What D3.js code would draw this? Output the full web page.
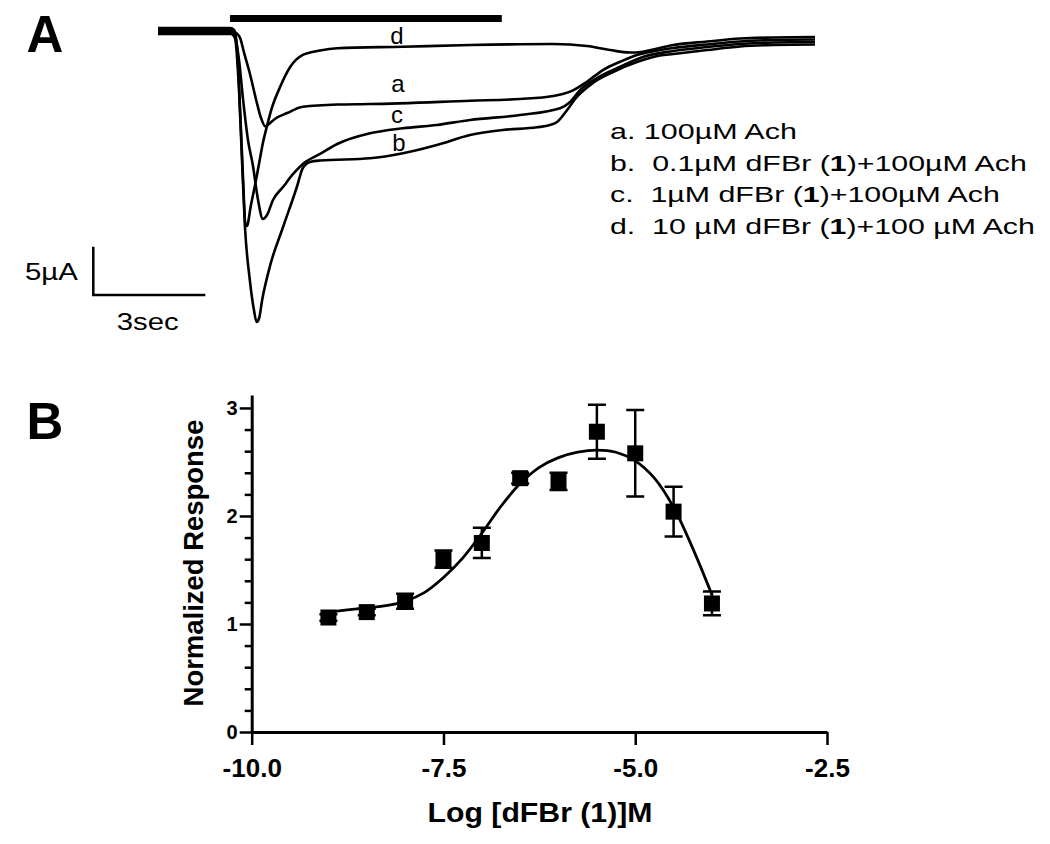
<!DOCTYPE html>
<html><head><meta charset="utf-8">
<script src="https://cdn.jsdelivr.net/npm/d3@7"></script>
<style>body{margin:0;background:#fff}svg{display:block}</style>
</head><body>
<svg id="c" width="1050" height="844"></svg>
<script>
// ---------- DATA: Panel A (time s, current µA) ----------
const trace_a = [[0,0.10],[1.96,0.10],[2.09,-0.21],[2.20,-0.72],[2.30,-2.17],[2.47,-4.55],[2.63,-7.14],[2.76,-9.01],[2.88,-9.89],[2.97,-9.63],[3.13,-9.11],[3.46,-8.49],[3.88,-7.84],[4.80,-7.61],[5.68,-7.56],[8.36,-7.22],[9.70,-7.04],[10.58,-6.73],[11.04,-6.28],[11.49,-5.25],[11.92,-4.04],[12.38,-3.18],[12.83,-2.48],[13.31,-2.07],[13.80,-1.76],[14.71,-1.40],[15.59,-1.09],[16.48,-0.93],[17.60,-0.88]];
const trace_b = [[0,-0.31],[1.96,-0.31],[2.06,-0.72],[2.17,-6.11],[2.25,-13.35],[2.33,-20.29],[2.46,-25.78],[2.57,-28.88],[2.64,-30.12],[2.71,-29.71],[2.79,-27.85],[3.00,-24.33],[3.35,-20.29],[3.72,-16.15],[3.88,-14.18],[4.07,-13.56],[4.34,-13.41],[5.68,-13.18],[6.56,-12.66],[7.47,-11.80],[8.36,-10.77],[9.24,-10.25],[10.15,-9.97],[10.50,-9.73],[10.69,-9.42],[10.96,-8.18],[11.22,-6.83],[11.65,-5.38],[12.19,-4.24],[12.83,-3.21],[13.45,-2.54],[13.80,-2.38],[14.71,-1.97],[15.59,-1.60],[16.48,-1.45],[17.60,-1.40]];
const trace_c = [[0,-0.10],[1.96,-0.10],[2.06,-0.52],[2.17,-3.00],[2.28,-7.14],[2.41,-11.28],[2.54,-13.87],[2.68,-17.49],[2.81,-19.46],[2.92,-19.05],[3.08,-17.49],[3.35,-16.15],[3.62,-14.80],[3.88,-13.77],[4.34,-12.73],[4.80,-11.70],[5.68,-10.59],[6.56,-10.07],[7.47,-9.73],[8.36,-9.21],[9.70,-8.70],[10.77,-8.00],[11.04,-7.35],[11.31,-6.11],[11.76,-4.87],[12.38,-3.70],[12.99,-2.69],[13.80,-2.07],[14.71,-1.66],[15.59,-1.35],[16.48,-1.19],[17.60,-1.14]];
const trace_d = [[0,0.31],[1.93,0.31],[2.04,0.10],[2.12,-1.76],[2.20,-8.18],[2.28,-15.42],[2.34,-19.98],[2.38,-20.19],[2.49,-18.01],[2.60,-15.94],[2.71,-13.66],[2.81,-11.59],[2.92,-9.83],[3.05,-7.97],[3.27,-5.80],[3.54,-3.73],[3.88,-2.48],[4.34,-2.02],[4.80,-1.79],[6.56,-1.63],[8.36,-1.45],[10.58,-1.35],[11.49,-1.55],[12.11,-1.97],[12.64,-2.23],[12.99,-2.14],[13.80,-1.45],[14.71,-1.09],[15.59,-0.78],[16.48,-0.67],[17.60,-0.62]];
const traceNames = ["a","b","c","d"];
const stimulus = [1.93, 9.21];            // agonist application bar (s)
const scaleBarUA = 5, scaleBarSec = 3;
const legendLines = [
  [["a. 100µM Ach", false]],
  [["b.  0.1µM dFBr (", false], ["1", true], [")+100µM Ach", false]],
  [["c.  1µM dFBr (", false], ["1", true], [")+100µM Ach", false]],
  [["d.  10 µM dFBr (", false], ["1", true], [")+100 µM Ach", false]]
];

// ---------- DATA: Panel B ----------
const logConc  = [-9.0, -8.5, -8.0, -7.5, -7.0, -6.5, -6.0, -5.5, -5.0, -4.5, -4.0];
const response = [1.06, 1.11, 1.21, 1.60, 1.75, 2.35, 2.32, 2.78, 2.58, 2.04, 1.19];
const semErr   = [0.03, 0.03, 0.07, 0.08, 0.14, 0.05, 0.08, 0.25, 0.40, 0.23, 0.11];
const fitX = [-9.0, -8.5, -8.25, -8.0, -7.75, -7.5, -7.25, -7.0, -6.75, -6.5, -6.25, -6.0, -5.75, -5.5, -5.25, -5.0, -4.75, -4.5, -4.25, -4.0];
const fitY = [1.11, 1.15, 1.17, 1.21, 1.29, 1.43, 1.61, 1.84, 2.09, 2.30, 2.45, 2.54, 2.59, 2.61, 2.59, 2.51, 2.35, 2.08, 1.70, 1.27];
const xTickValues = [-10, -7.5, -5, -2.5];
const xTickLabels = ["-10.0", "-7.5", "-5.0", "-2.5"];
const yTickValues = [0, 1, 2, 3];
const yTickLabels = ["0", "1", "2", "3"];
const yMinorValues = [0.2,0.4,0.6,0.8,1.2,1.4,1.6,1.8,2.2,2.4,2.6,2.8];

// ---------- DRAW ----------
const FONT = "'Liberation Sans', Arial, Helvetica, sans-serif";
const svg = d3.select("#c");
svg.append("rect").attr("width",1050).attr("height",844).attr("fill","#fff");

function fitText(parent, o) {
  const g = parent.append("g");
  const t = g.append("text").attr("font-family", FONT).attr("font-size", o.size)
    .attr("font-weight", o.weight || "normal").attr("text-anchor", o.anchor || "start")
    .style("white-space", "pre").attr("fill", "#000");
  o.segs.forEach(([s, b]) => t.append("tspan").text(s).attr("font-weight", b ? "bold" : null));
  const w = t.node().getComputedTextLength();
  const s = o.target ? o.target / w : 1;
  g.attr("transform", `translate(${o.x},${o.y}) rotate(${o.rotate || 0}) scale(${s},1)`);
  return g;
}

// ===== Panel A =====
const xA = d3.scaleLinear().domain([0, 17.6]).range([158, 815]);
const yA = d3.scaleLinear().domain([0, -5]).range([31, 79.3]);
const gA = svg.append("g");
const lineA = d3.line().x(d => xA(d[0])).y(d => yA(d[1])).curve(d3.curveMonotoneX);
[trace_a, trace_b, trace_c, trace_d].forEach(tr => {
  gA.append("path").attr("d", lineA(tr)).attr("fill", "none")
    .attr("stroke", "#000").attr("stroke-width", 2.6).attr("stroke-linejoin", "round");
});
// stimulus bar
gA.append("line").attr("x1", xA(stimulus[0])).attr("x2", xA(stimulus[1]))
  .attr("y1", 18.5).attr("y2", 18.5).attr("stroke", "#000").attr("stroke-width", 7);

// trace labels
const labelPos = {d: [397, 44], a: [398, 91.5], c: [397, 122.5], b: [399, 150.5]};
traceNames.forEach(n => {
  gA.append("text").attr("x", labelPos[n][0]).attr("y", labelPos[n][1])
    .attr("text-anchor", "middle").attr("font-family", FONT).attr("font-size", 24).text(n);
});

// scale bar
const sbX = 93.3, sbY = 295;
const sbH = yA(-scaleBarUA) - yA(0), sbW = xA(scaleBarSec) - xA(0);
gA.append("path").attr("d", `M${sbX},${sbY - sbH}V${sbY}H${sbX + sbW}`)
  .attr("fill", "none").attr("stroke", "#000").attr("stroke-width", 2.5);
fitText(gA, {x: 25, y: 280, size: 23, target: 53, segs: [["5µA", false]]});
fitText(gA, {x: 116.7, y: 330, size: 24, target: 62, segs: [["3sec", false]]});

// legend
const legBase = [138.5, 170.5, 202, 233.5];
const legW = [187, 417, 390, 425];
legendLines.forEach((segs, i) => {
  fitText(gA, {x: 610, y: legBase[i], size: 22.5, target: legW[i], segs});
});

// panel letters
svg.append("text").attr("x", 26.5).attr("y", 51.7).attr("font-family", FONT)
  .attr("font-weight", "bold").attr("font-size", 51).text("A");
svg.append("text").attr("x", 26.5).attr("y", 439).attr("font-family", FONT)
  .attr("font-weight", "bold").attr("font-size", 51).text("B");

// ===== Panel B =====
const xB = d3.scaleLinear().domain([-10, -2.5]).range([251.7, 827]);
const yB = d3.scaleLinear().domain([0, 3.12]).range([732, 395]);
const gB = svg.append("g");

const xAxis = d3.axisBottom(xB).tickValues(xTickValues).tickSize(13).tickSizeOuter(0)
  .tickFormat((d, i) => xTickLabels[i]);
const gx = gB.append("g").attr("transform", `translate(0,${yB(0)})`).call(xAxis);
gx.select(".domain").attr("stroke-width", 3);
gx.selectAll(".tick line").attr("stroke-width", 2.5);
gx.selectAll(".tick text").attr("font-family", FONT).attr("font-weight", "bold")
  .attr("font-size", 26).attr("y", 45).attr("dy", 0).attr("fill", "#000");

const yAxis = d3.axisLeft(yB).tickValues(yTickValues).tickSize(12).tickSizeOuter(0)
  .tickFormat((d, i) => yTickLabels[i]);
const gy = gB.append("g").attr("transform", `translate(${xB(-10)},0)`).call(yAxis);
gy.select(".domain").attr("stroke-width", 3);
gy.selectAll(".tick line").attr("stroke-width", 2.5);
gy.selectAll(".tick text").attr("font-family", FONT).attr("font-weight", "bold")
  .attr("font-size", 20).attr("x", -14).attr("fill", "#000");
const gym = gB.append("g").attr("transform", `translate(${xB(-10)},0)`)
  .call(d3.axisLeft(yB).tickValues(yMinorValues).tickSize(7).tickSizeOuter(0).tickFormat(""));
gym.select(".domain").remove();
gym.selectAll(".tick line").attr("stroke-width", 2.5);

// fit curve
const fitLine = d3.line().x((d, i) => xB(fitX[i])).y(d => yB(d)).curve(d3.curveCatmullRom.alpha(0.5));
gB.append("path").attr("d", fitLine(fitY)).attr("fill", "none")
  .attr("stroke", "#000").attr("stroke-width", 2.8);

// error bars
logConc.forEach((c, i) => {
  const x = xB(c), y1 = yB(response[i] - semErr[i]), y2 = yB(response[i] + semErr[i]);
  gB.append("path").attr("d", `M${x},${y1}V${y2}M${x - 9},${y1}H${x + 9}M${x - 9},${y2}H${x + 9}`)
    .attr("stroke", "#000").attr("stroke-width", 2.5).attr("fill", "none");
});
// markers
gB.selectAll("rect.pt").data(logConc).join("rect").attr("class", "pt")
  .attr("x", d => xB(d) - 8).attr("y", (d, i) => yB(response[i]) - 8)
  .attr("width", 16).attr("height", 16).attr("fill", "#000");

// axis titles
fitText(gB, {x: 540, y: 822, size: 28, weight: "bold", anchor: "middle", target: 225,
  segs: [["Log [dFBr (1)]M", false]]});
fitText(gB, {x: 203, y: 563, size: 28, weight: "bold", anchor: "middle", rotate: -90, target: 287,
  segs: [["Normalized Response", false]]});
</script>
</body></html>
